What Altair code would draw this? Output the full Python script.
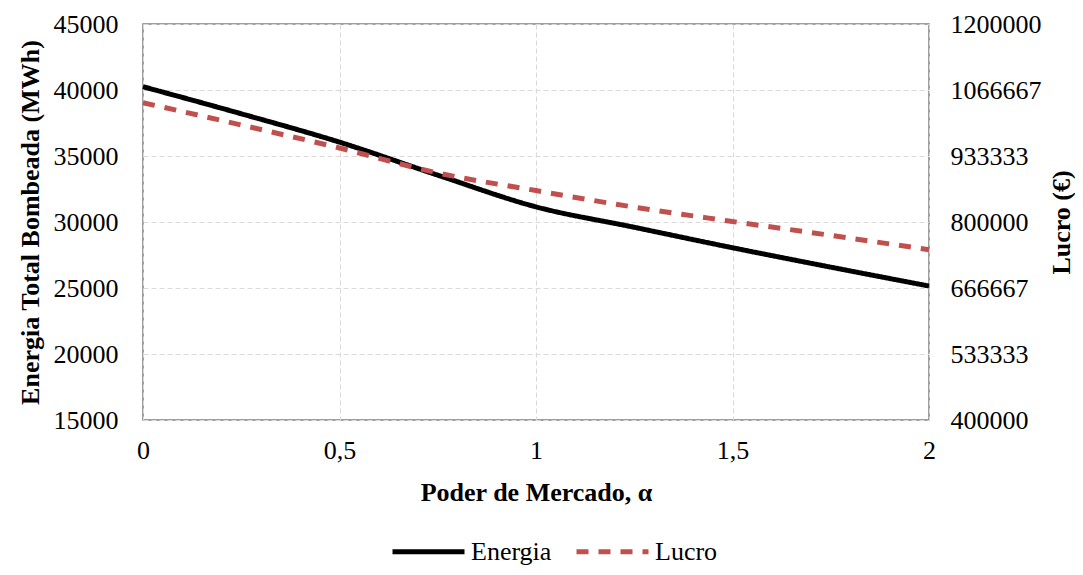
import altair as alt
import pandas as pd

alpha = [0, 0.25, 0.5, 0.75, 1.0, 1.25, 1.5, 1.75, 2.0]
energia = [40250, 38200, 36050, 33550, 31150, 29600, 28050, 26580, 25150]
lucro = [1041000, 996000, 949500, 899000, 863500, 830000, 801000, 773000, 744000]
series = ["Energia", "Lucro"]
x_ticks = [0, 0.5, 1, 1.5, 2]
left_ticks = [15000, 20000, 25000, 30000, 35000, 40000, 45000]
right_ticks = [400000, 533333.333, 666666.667, 800000, 933333.333, 1066666.667, 1200000]

FONT = "Liberation Serif"

df_e = pd.DataFrame({"alpha": alpha, "valor": energia, "serie": series[0]})
df_l = pd.DataFrame({"alpha": alpha, "valor": lucro, "serie": series[1]})

x_enc = alt.X(
    "alpha:Q",
    scale=alt.Scale(domain=[0, 2], nice=False),
    axis=alt.Axis(
        values=x_ticks,
        labelExpr="replace(toString(datum.value), '.', ',')",
        title="Poder de Mercado, α",
        grid=True, gridDash=[5, 3], gridColor="#d9d9d9",
        ticks=False, domain=False, labelFlush=False,
        labelPadding=17, labelFontSize=26,
        titleFontSize=26, titleFontWeight="bold",
        titleY=72, titleBaseline="middle",
    ),
)

legend_def = alt.Legend(
    title=None, orient="none", direction="horizontal",
    legendX=247, legendY=489,
    symbolType="stroke", symbolSize=5184, symbolStrokeWidth=5,
    labelFontSize=26, labelColor="#000000", labelOffset=4,
    columnPadding=14,
)

color_enc = alt.Color(
    "serie:N",
    scale=alt.Scale(domain=series, range=["#000000", "#C0504D"]),
    legend=legend_def,
)
dash_enc = alt.StrokeDash(
    "serie:N",
    scale=alt.Scale(domain=series, range=[[1, 0], [12, 10]]),
    legend=legend_def,
)

line_e = alt.Chart(df_e).mark_line(
    strokeWidth=5, strokeCap="butt", interpolate="monotone"
).encode(
    x=x_enc,
    y=alt.Y(
        "valor:Q",
        scale=alt.Scale(domain=[15000, 45000], nice=False, zero=False),
        axis=alt.Axis(
            values=left_ticks, format="d", orient="left",
            title="Energia Total Bombeada (MWh)",
            grid=True, gridDash=[5, 3], gridColor="#d9d9d9",
            ticks=False, domain=False,
            labelPadding=25, labelFontSize=26,
            titleFontSize=26, titleFontWeight="bold",
            titleX=-113, titleY=198, titleAngle=-90,
            titleAlign="center", titleBaseline="middle",
        ),
    ),
    color=color_enc,
    strokeDash=dash_enc,
)

line_l = alt.Chart(df_l).mark_line(
    strokeWidth=5, strokeCap="butt", interpolate="monotone"
).encode(
    x=x_enc,
    y=alt.Y(
        "valor:Q",
        scale=alt.Scale(domain=[400000, 1200000], nice=False, zero=False),
        axis=alt.Axis(
            values=right_ticks, format=".0f", orient="right",
            title="Lucro (€)",
            grid=False, ticks=False, domain=False,
            labelPadding=21, labelFontSize=26,
            titleFontSize=26, titleFontWeight="bold",
            titleX=132, titleY=198, titleAngle=-90,
            titleAlign="center", titleBaseline="middle",
        ),
    ),
    color=color_enc,
    strokeDash=dash_enc,
)

chart = alt.layer(line_e, line_l).resolve_scale(
    y="independent"
).properties(
    width=786, height=396,
    autosize=alt.AutoSizeParams(type="none"),
    padding={"left": 135, "top": 16, "right": 146, "bottom": 147},
).configure(
    font=FONT,
).configure_axis(
    labelFont=FONT, titleFont=FONT, labelColor="#000000", titleColor="#000000",
).configure_legend(
    labelFont=FONT,
).configure_view(
    stroke="#808080", strokeWidth=1.5,
)

chart.save("out.html", embed_options={"renderer": "svg", "actions": False})
